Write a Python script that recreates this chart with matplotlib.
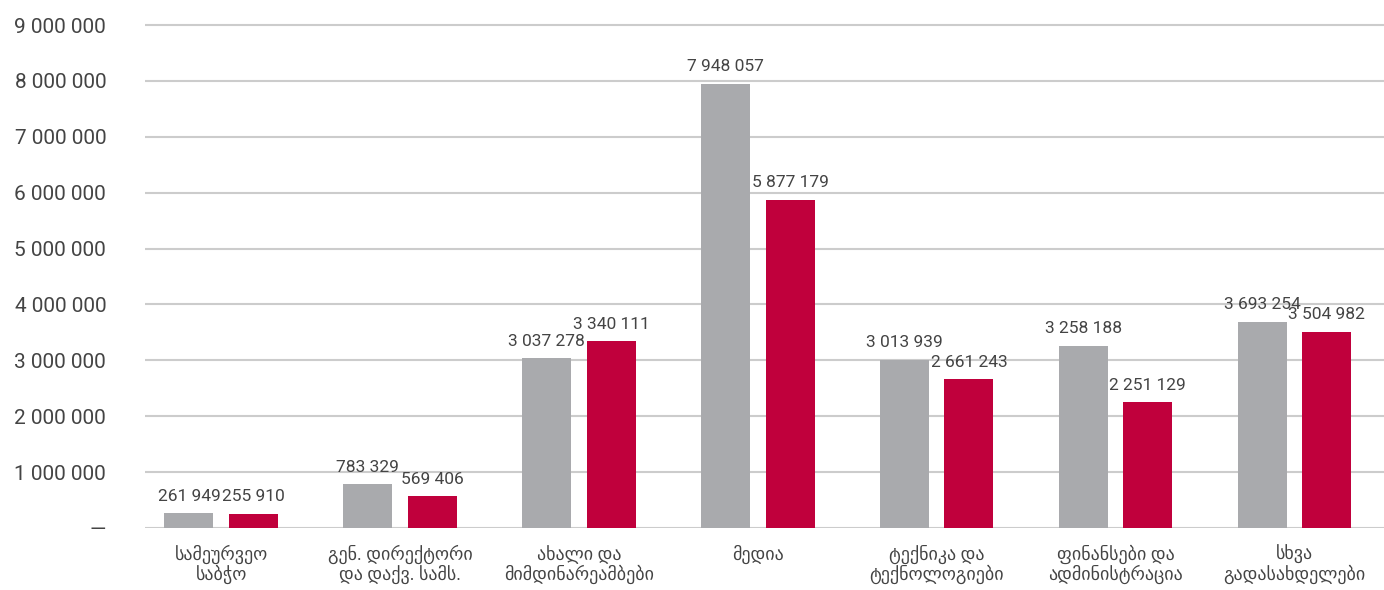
import matplotlib
matplotlib.use('Agg')
import matplotlib.pyplot as plt
import numpy as np

# Категории (грузинский текст)
categories = [
    "სამეურვეო\nსაბჭო",
    "გენ. დირექტორი\nდა დაქვ. სამს.",
    "ახალი და\nმიმდინარეამბები",
    "მედია",
    "ტექნიკა და\nტექნოლოგიები",
    "ფინანსები და\nადმინისტრაცია",
    "სხვა\nგადასახდელები",
]
series_gray = [261949, 783329, 3037278, 7948057, 3013939, 3258188, 3693254]
series_red = [255910, 569406, 3340111, 5877179, 2661243, 2251129, 3504982]
yticks = [0, 1000000, 2000000, 3000000, 4000000, 5000000,
          6000000, 7000000, 8000000, 9000000]


def fmt(v):
    return "{:,}".format(v).replace(",", " ")


plt.rcParams['font.family'] = ['Roboto', 'DejaVu Sans']

fig = plt.figure(figsize=(13.84, 5.9), dpi=100)
ax = fig.add_axes([0.1048, 0.105, 0.8952, 0.8621])

x = np.arange(len(categories))
w = 0.274
off = 0.18
text_color = '#444444'

ax.bar(x - off, series_gray, w, color='#a9aaad', zorder=3)
ax.bar(x + off, series_red, w, color='#c0003c', zorder=3)

# подписи значений над столбцами
for xi, v in zip(x, series_gray):
    ax.annotate(fmt(v), (xi - off, v), xytext=(0, 7), textcoords='offset points',
                ha='center', va='bottom', fontsize=12.5, color=text_color)
for xi, v in zip(x, series_red):
    ax.annotate(fmt(v), (xi + off, v), xytext=(0, 7), textcoords='offset points',
                ha='center', va='bottom', fontsize=12.5, color=text_color)

ax.set_xlim(-0.425, 6.5)
ax.set_ylim(0, 9.1e6)
ax.set_yticks(yticks)
ax.set_yticklabels(['—'] + [fmt(t) for t in yticks[1:]])
ax.yaxis.grid(True, color='#cccccc', linewidth=1.5, zorder=0)
ax.set_axisbelow(True)
ax.tick_params(axis='y', length=0, pad=28, labelsize=15, labelcolor=text_color)
ax.set_xticks(x)
ax.set_xticklabels(categories, fontsize=13, color=text_color, linespacing=1.05)
ax.tick_params(axis='x', length=0, pad=12)
for s in ax.spines.values():
    s.set_visible(False)

fig.savefig('out.png', dpi=100)
